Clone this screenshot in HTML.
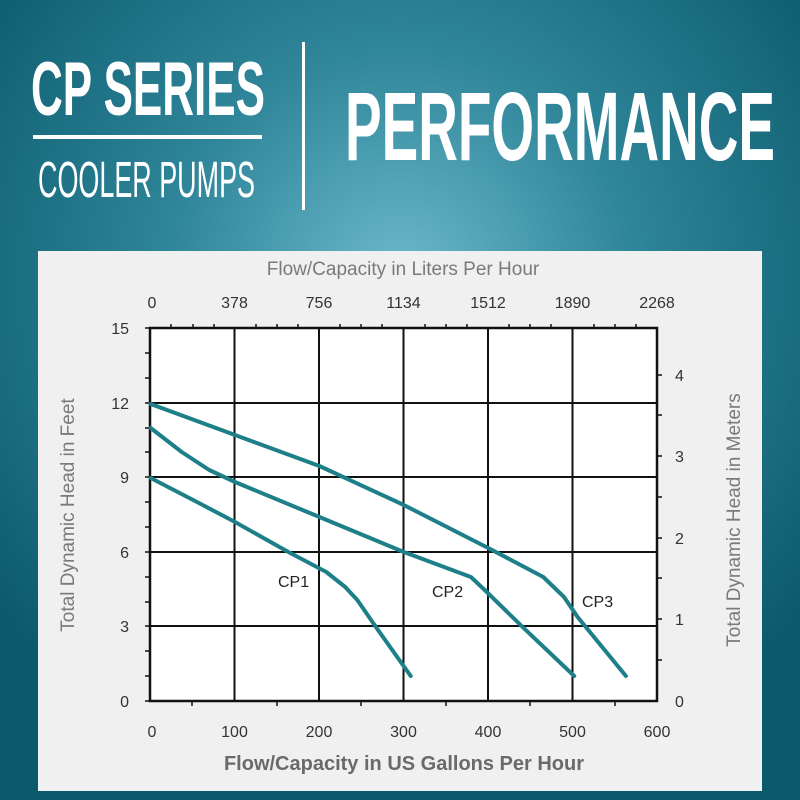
<!DOCTYPE html>
<html><head><meta charset="utf-8"><style>
html,body{margin:0;padding:0;width:800px;height:800px;overflow:hidden}
svg{display:block}
</style></head><body>
<svg width="800" height="800" viewBox="0 0 800 800" xmlns="http://www.w3.org/2000/svg" font-family="Liberation Sans, sans-serif">
<defs>
<radialGradient id="bg" cx="400" cy="280" r="520" gradientUnits="userSpaceOnUse">
<stop offset="0" stop-color="#6cb9cb"/>
<stop offset="0.45" stop-color="#2f8599"/>
<stop offset="1" stop-color="#0b5a6c"/>
</radialGradient>
</defs>
<rect width="800" height="800" fill="url(#bg)"/>
<!-- header -->
<text x="31" y="115" font-size="76" font-weight="bold" fill="#fff" textLength="234" lengthAdjust="spacingAndGlyphs">CP SERIES</text>
<rect x="33" y="135" width="229" height="4" fill="#fff"/>
<text x="38" y="197" font-size="51" fill="#fff" textLength="217" lengthAdjust="spacingAndGlyphs">COOLER PUMPS</text>
<rect x="302" y="42" width="3" height="168" fill="#fff"/>
<text x="345" y="160" font-size="97" font-weight="bold" fill="#fff" textLength="430" lengthAdjust="spacingAndGlyphs">PERFORMANCE</text>
<!-- panel -->
<rect x="38" y="251" width="724" height="540" fill="#f0f0f0"/>
<rect x="150" y="328" width="507" height="373" fill="#fff"/>
<!-- grid -->
<g stroke="#111" stroke-width="2">
<line x1="234.5" y1="328" x2="234.5" y2="701"/>
<line x1="319" y1="328" x2="319" y2="701"/>
<line x1="403.5" y1="328" x2="403.5" y2="701"/>
<line x1="488" y1="328" x2="488" y2="701"/>
<line x1="572.5" y1="328" x2="572.5" y2="701"/>
<line x1="150" y1="403" x2="657" y2="403"/>
<line x1="150" y1="477" x2="657" y2="477"/>
<line x1="150" y1="552" x2="657" y2="552"/>
<line x1="150" y1="626" x2="657" y2="626"/>
</g>
<rect x="150" y="328" width="507" height="373" fill="none" stroke="#111" stroke-width="2.5"/>
<!-- ticks -->
<g stroke="#111" stroke-width="1.5">
<line x1="171" y1="324" x2="171" y2="328"/><line x1="193" y1="324" x2="193" y2="328"/><line x1="214" y1="324" x2="214" y2="328"/>
<line x1="256" y1="324" x2="256" y2="328"/><line x1="277" y1="324" x2="277" y2="328"/><line x1="298" y1="324" x2="298" y2="328"/>
<line x1="340" y1="324" x2="340" y2="328"/><line x1="361" y1="324" x2="361" y2="328"/><line x1="382" y1="324" x2="382" y2="328"/>
<line x1="425" y1="324" x2="425" y2="328"/><line x1="446" y1="324" x2="446" y2="328"/><line x1="467" y1="324" x2="467" y2="328"/>
<line x1="509" y1="324" x2="509" y2="328"/><line x1="530" y1="324" x2="530" y2="328"/><line x1="551" y1="324" x2="551" y2="328"/>
<line x1="594" y1="324" x2="594" y2="328"/><line x1="615" y1="324" x2="615" y2="328"/><line x1="636" y1="324" x2="636" y2="328"/>
<line x1="192" y1="701" x2="192" y2="706"/><line x1="277" y1="701" x2="277" y2="706"/><line x1="361" y1="701" x2="361" y2="706"/>
<line x1="446" y1="701" x2="446" y2="706"/><line x1="530" y1="701" x2="530" y2="706"/><line x1="615" y1="701" x2="615" y2="706"/>
<line x1="145" y1="328" x2="150" y2="328"/><line x1="145" y1="353" x2="150" y2="353"/><line x1="145" y1="378" x2="150" y2="378"/>
<line x1="145" y1="403" x2="150" y2="403"/><line x1="145" y1="428" x2="150" y2="428"/><line x1="145" y1="452" x2="150" y2="452"/>
<line x1="145" y1="477" x2="150" y2="477"/><line x1="145" y1="502" x2="150" y2="502"/><line x1="145" y1="527" x2="150" y2="527"/>
<line x1="145" y1="552" x2="150" y2="552"/><line x1="145" y1="577" x2="150" y2="577"/><line x1="145" y1="602" x2="150" y2="602"/>
<line x1="145" y1="626" x2="150" y2="626"/><line x1="145" y1="651" x2="150" y2="651"/><line x1="145" y1="676" x2="150" y2="676"/>
<line x1="145" y1="701" x2="150" y2="701"/>
<line x1="657" y1="660" x2="662" y2="660"/><line x1="657" y1="619" x2="662" y2="619"/><line x1="657" y1="578" x2="662" y2="578"/>
<line x1="657" y1="538" x2="662" y2="538"/><line x1="657" y1="497" x2="662" y2="497"/><line x1="657" y1="456" x2="662" y2="456"/>
<line x1="657" y1="415" x2="662" y2="415"/><line x1="657" y1="375" x2="662" y2="375"/>
</g>
<!-- curves -->
<g fill="none" stroke="#1d7f88" stroke-width="4" stroke-linecap="round" stroke-linejoin="round">
<polyline points="150.7,404 235,435 319.4,466 403.8,505 488.2,548 543.3,577 564,597 577.6,617 625.9,676"/>
<polyline points="150.7,428 181.7,452 209.2,470 235,482 319.4,517 403.8,552 470.9,577 484.7,590 522.6,627 574.2,676"/>
<polyline points="150.7,478 198.9,503 235,522 288.4,552 326.3,572 345.2,587 357.3,600 378,630 410.7,676"/>
</g>
<!-- curve labels -->
<g font-size="16" fill="#222">
<text x="278" y="587">CP1</text>
<text x="432" y="597">CP2</text>
<text x="582" y="607">CP3</text>
</g>
<!-- axis labels -->
<text x="403" y="275" font-size="19" fill="#7a7a7a" text-anchor="middle">Flow/Capacity in Liters Per Hour</text>
<g font-size="16" fill="#333" text-anchor="middle">
<text x="152" y="308">0</text><text x="234.5" y="308">378</text><text x="319" y="308">756</text>
<text x="403.5" y="308">1134</text><text x="488" y="308">1512</text><text x="572.5" y="308">1890</text><text x="657" y="308">2268</text>
<text x="152" y="737">0</text><text x="234.5" y="737">100</text><text x="319" y="737">200</text>
<text x="403.5" y="737">300</text><text x="488" y="737">400</text><text x="572.5" y="737">500</text><text x="657" y="737">600</text>
</g>
<g font-size="16" fill="#333" text-anchor="end">
<text x="129" y="334">15</text><text x="129" y="409">12</text><text x="129" y="483">9</text>
<text x="129" y="558">6</text><text x="129" y="632">3</text><text x="129" y="707">0</text>
</g>
<g font-size="16" fill="#333">
<text x="675" y="707">0</text><text x="675" y="625">1</text><text x="675" y="544">2</text>
<text x="675" y="462">3</text><text x="675" y="381">4</text>
</g>
<text transform="translate(74,515) rotate(-90)" font-size="19" fill="#7a7a7a" text-anchor="middle">Total Dynamic Head in Feet</text>
<text transform="translate(740,520) rotate(-90)" font-size="19" fill="#7a7a7a" text-anchor="middle">Total Dynamic Head in Meters</text>
<text x="404" y="770" font-size="20" font-weight="bold" fill="#6a6a6a" text-anchor="middle">Flow/Capacity in US Gallons Per Hour</text>
</svg>
</body></html>
